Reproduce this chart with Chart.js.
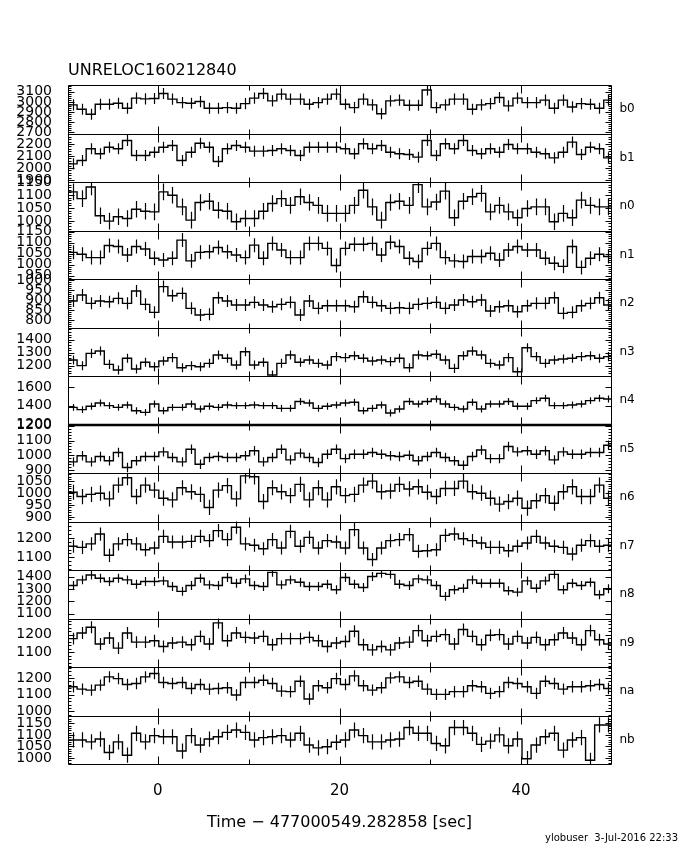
<!DOCTYPE html>
<html>
<head>
<meta charset="utf-8">
<script src="https://cdn.jsdelivr.net/npm/chart.js@4.4.1/dist/chart.umd.min.js"></script>
<style>
  body { margin: 0; background: #fff; }
  #wrap { width: 680px; height: 850px; }
</style>
</head>
<body>
<div id="wrap"><canvas id="lc" width="680" height="850"></canvas></div>
<script>
// bin centres, seconds since trigger
const times = [-9.4, -8.4, -7.4, -6.4, -5.4, -4.4, -3.4, -2.4, -1.4, -0.4,
  0.6, 1.6, 2.6, 3.6, 4.6, 5.6, 6.6, 7.6, 8.6, 9.6,
  10.6, 11.6, 12.6, 13.6, 14.6, 15.6, 16.6, 17.6, 18.6, 19.6,
  20.6, 21.6, 22.6, 23.6, 24.6, 25.6, 26.6, 27.6, 28.6, 29.6,
  30.6, 31.6, 32.6, 33.6, 34.6, 35.6, 36.6, 37.6, 38.6, 39.6,
  40.6, 41.6, 42.6, 43.6, 44.6, 45.6, 46.6, 47.6, 48.6, 49.6];

const panelNames = ['b0', 'b1', 'n0', 'n1', 'n2', 'n3', 'n4', 'n5', 'n6', 'n7', 'n8', 'n9', 'na', 'nb'];

const rateB0 = [2970,2927,2877,2977,2977,2987,2937,3037,3030,3033, 3083,3027,2993,2987,3003,2937,2937,2943,2937,2983,
  3037,3083,3010,3077,3027,3027,2977,2993,3027,3077, 2977,2943,3027,2970,2883,3010,3017,2967,2967,3117,
  2943,2970,3027,3027,2927,2970,2983,3043,2960,3037, 2993,2993,3017,2937,3017,2950,2983,2977,2937,3017];
const rateB1 = [2034,2062,2160,2118,2173,2160,2229,2104,2104,2131, 2173,2187,2062,2131,2206,2173,2054,2160,2187,2173,
  2140,2140,2145,2160,2145,2104,2173,2173,2173,2173, 2160,2118,2201,2160,2187,2131,2118,2112,2090,2229,
  2104,2201,2160,2229,2145,2118,2160,2131,2195,2160, 2160,2131,2118,2084,2131,2215,2112,2173,2160,2084];
const rateN0 = [1112,1086,1131,1020,999,1016,1009,1045,1037,1035, 1112,1099,1054,1003,1071,1076,1041,1037,997,1009,
  1009,1037,1067,1086,1060,1093,1071,1060,1029,1029, 1029,1060,1118,1054,1003,1071,1076,1060,1140,1054,
  1073,1115,1012,1076,1093,1106,1035,1060,1035,1012, 1048,1054,1054,997,1029,1012,1080,1060,1054,1054];
const rateN1 = [1056,1047,1032,1032,1087,1083,1044,1083,1071,1029, 1021,1029,1112,1017,1056,1059,1078,1059,1044,1032,
  1089,1029,1097,1067,1032,1032,1097,1097,1074,996, 1074,1093,1093,1097,1044,1102,1083,1029,1014,1074,
  1097,1032,1017,1014,1037,1037,1052,1021,1067,1083, 1067,1067,1029,1006,992,1083,987,1029,1047,1037];
const rateN2 = [895,925,883,895,891,908,883,945,878,838, 967,921,933,858,825,828,911,895,875,875,
  888,875,866,878,888,825,895,858,871,871, 871,866,916,888,871,858,861,858,878,883,
  888,858,875,900,891,900,845,866,871,841, 871,883,883,911,833,838,871,883,911,875];
const rateN3 = [1244,1200,1295,1313,1210,1166,1257,1174,1226,1192, 1236,1262,1184,1200,1192,1218,1282,1257,1205,1308,
  1205,1226,1128,1218,1282,1226,1244,1218,1205,1270, 1262,1277,1257,1236,1244,1231,1257,1184,1282,1277,
  1288,1244,1179,1277,1313,1282,1218,1205,1262,1153, 1339,1270,1218,1244,1251,1257,1270,1277,1257,1270];
const rateN4 = [1382,1357,1393,1429,1400,1382,1407,1346,1328,1418, 1346,1382,1382,1418,1364,1393,1382,1407,1400,1400,
  1407,1400,1400,1371,1371,1444,1429,1371,1393,1407, 1429,1436,1346,1371,1407,1321,1364,1444,1418,1444,
  1472,1418,1382,1364,1436,1364,1418,1418,1444,1393, 1393,1454,1480,1400,1400,1407,1418,1454,1480,1472];
const rateN5 = [955,996,955,991,962,1018,916,962,991,991, 1023,984,955,1041,939,984,991,984,984,996,
  1030,955,984,1041,968,1014,984,950,1007,1041, 977,1007,1007,1018,1007,996,991,1000,962,991,
  1018,984,962,932,991,1036,977,977,1059,1023, 1030,1007,1030,968,1023,1007,1007,1018,1018,1068];
const rateN6 = [1004,986,995,1000,976,1034,1065,986,1034,1013, 979,972,1023,1006,995,940,1013,1032,976,1073,
  1069,965,1023,1006,990,1037,972,1023,972,1027, 990,995,1034,1051,1006,1009,1037,1018,1027,1004,
  986,1020,1020,1051,1006,1000,979,954,965,979, 937,968,990,958,1006,1027,986,986,1034,979];
const rateN7 = [1157,1151,1169,1220,1110,1169,1191,1169,1139,1148, 1208,1179,1179,1182,1208,1186,1238,1191,1255,1169,
  1162,1144,1191,1148,1234,1157,1203,1148,1186,1179, 1148,1243,1148,1088,1148,1186,1191,1217,1131,1134,
  1139,1213,1220,1196,1186,1174,1151,1151,1134,1157, 1174,1208,1174,1157,1151,1117,1162,1186,1157,1162];
const rateN8 = [1329,1374,1414,1387,1361,1387,1374,1339,1361,1361, 1366,1321,1281,1329,1387,1334,1329,1393,1347,1382,
  1329,1321,1435,1334,1374,1355,1321,1321,1339,1294, 1393,1339,1313,1401,1427,1419,1339,1329,1382,1374,
  1329,1241,1294,1307,1374,1347,1347,1347,1286,1275, 1366,1307,1366,1419,1294,1347,1329,1355,1254,1302];
const rateN9 = [1177,1209,1242,1146,1181,1123,1209,1157,1157,1165, 1132,1152,1157,1142,1190,1146,1267,1165,1209,1184,
  1181,1190,1142,1177,1177,1177,1184,1165,1132,1152, 1161,1219,1142,1113,1132,1113,1152,1157,1223,1165,
  1190,1200,1146,1229,1190,1142,1196,1200,1146,1190, 1152,1184,1142,1171,1209,1181,1142,1223,1171,1146];
const rateNa = [1147,1133,1127,1157,1206,1196,1161,1167,1206,1226, 1173,1167,1173,1137,1161,1133,1137,1141,1098,1173,
  1173,1186,1167,1121,1118,1180,1074,1153,1141,1196, 1161,1212,1153,1127,1141,1200,1206,1173,1180,1133,
  1102,1102,1118,1118,1153,1147,1108,1118,1173,1167, 1147,1108,1180,1167,1133,1147,1147,1153,1161,1137];
const rateNb = [1078,1078,1070,1082,1024,1070,1012,1107,1070,1097, 1092,1092,1030,1097,1056,1082,1092,1111,1121,1111,
  1078,1088,1092,1097,1078,1107,1056,1044,1049,1068, 1078,1121,1097,1070,1070,1078,1082,1132,1107,1107,
  1063,1053,1132,1132,1107,1059,1073,1100,1053,1082, 997,1056,1092,1107,1034,1078,1088,990,1143,1143];

const rates = [rateB0, rateB1, rateN0, rateN1, rateN2, rateN3, rateN4, rateN5, rateN6, rateN7, rateN8, rateN9, rateNa, rateNb];
// one sigma error per panel (counts/s)
const errs = [55, 46, 32, 32, 30, 35, 37, 32, 32, 34, 36, 34, 34, 33];

// axis ranges and tick steps per panel
const yMin = [2687, 1883, 963, 934, 762, 1120, 1198, 879, 881, 1034, 1062, 1015, 976, 974];
const yMax = [3167, 2287, 1150, 1156, 1005, 1495, 1718, 1209, 1085, 1285, 1454, 1292, 1265, 1184];
const yMajor = [100, 100, 50, 50, 50, 100, 200, 100, 50, 100, 100, 100, 100, 50];
const yMinor = [20, 20, 10, 10, 10, 20, 0, 20, 10, 20, 0, 20, 20, 10];

const xMajor = [0, 20, 40];
const xMinor = [10, 30];

Chart.defaults.font.family = 'DejaVu Sans';
Chart.defaults.color = '#000';

function stepsIn(min, max, step) {
    let out = [];
    for (let v = Math.ceil(min / step) * step; v <= max + 1e-9; v += step) out.push(v);
    return out;
}

// stacked left axes are laid out last-defined on top, so add them from nb down to b0
let yScales = {};
for (let i = panelNames.length - 1; i >= 0; i--) {
    yScales['y' + i] = {
        type: 'linear',
        position: 'left',
        stack: 'panels',
        stackWeight: 1,
        min: yMin[i],
        max: yMax[i],
        grid: { display: false },
        border: { display: false },
        ticks: {
            autoSkip: false,
            padding: 8,
            font: { size: 14 },
            callback: v => String(v)
        },
        afterBuildTicks: s => { s.ticks = stepsIn(s.min, s.max, yMajor[i]).map(v => ({ value: v })); },
        afterFit: s => { s.width = 68; }
    };
}

// frame, ticks, panel names, title and footnote
const frames = {
    id: 'frames',
    afterDraw(chart) {
        const { ctx, chartArea, scales } = chart;
        const x = scales.x;
        const l = Math.round(chartArea.left) + 0.5;
        const r = Math.round(chartArea.right) + 0.5;
        ctx.save();
        ctx.strokeStyle = '#000';
        ctx.fillStyle = '#000';
        ctx.lineWidth = 1;
        panelNames.forEach((name, i) => {
            const s = scales['y' + i];
            const top = Math.round(s.top) + 0.5;
            const bot = Math.round(s.bottom) + 0.5;
            ctx.beginPath();
            ctx.rect(l, top, r - l, bot - top);
            xMajor.forEach(v => {
                const px = Math.round(x.getPixelForValue(v)) + 0.5;
                ctx.moveTo(px, top); ctx.lineTo(px, top + 8);
                ctx.moveTo(px, bot); ctx.lineTo(px, bot - 8);
            });
            xMinor.forEach(v => {
                const px = Math.round(x.getPixelForValue(v)) + 0.5;
                ctx.moveTo(px, top); ctx.lineTo(px, top + 5);
                ctx.moveTo(px, bot); ctx.lineTo(px, bot - 5);
            });
            const step = yMinor[i] || yMajor[i];
            stepsIn(s.min, s.max, step).forEach(v => {
                const q = v / yMajor[i];
                const len = Math.abs(q - Math.round(q)) < 1e-6 ? 6 : 3;
                const py = Math.round(s.getPixelForValue(v)) + 0.5;
                ctx.moveTo(l, py); ctx.lineTo(l + len, py);
                ctx.moveTo(r, py); ctx.lineTo(r - len, py);
            });
            ctx.stroke();
            ctx.font = '12px "DejaVu Sans"';
            ctx.textAlign = 'left';
            ctx.textBaseline = 'middle';
            ctx.fillText(name, r + 8, (s.top + s.bottom) / 2);
        });
        // heavier separator under n4
        const s4 = scales.y6;
        ctx.lineWidth = 2.5;
        ctx.beginPath();
        ctx.moveTo(l, Math.round(s4.bottom));
        ctx.lineTo(r, Math.round(s4.bottom));
        ctx.stroke();

        ctx.font = '16px "DejaVu Sans"';
        ctx.textAlign = 'left';
        ctx.textBaseline = 'alphabetic';
        ctx.fillText('UNRELOC160212840', chartArea.left, 75);
        ctx.font = '10px "DejaVu Sans"';
        ctx.textAlign = 'right';
        ctx.textBaseline = 'middle';
        ctx.fillText('ylobuser  3-Jul-2016 22:33', 678, 838);
        ctx.restore();
    }
};

// vertical error bars at the bin centres
const errorBars = {
    id: 'errorBars',
    afterDatasetsDraw(chart) {
        const { ctx, chartArea, scales } = chart;
        ctx.save();
        ctx.strokeStyle = '#000';
        ctx.lineWidth = 1.2;
        rates.forEach((vals, i) => {
            const s = scales['y' + i];
            ctx.save();
            ctx.beginPath();
            ctx.rect(chartArea.left, s.top, chartArea.right - chartArea.left, s.bottom - s.top);
            ctx.clip();
            ctx.beginPath();
            vals.forEach((v, k) => {
                const px = Math.round(scales.x.getPixelForValue(times[k])) + 0.5;
                ctx.moveTo(px, s.getPixelForValue(v - errs[i]));
                ctx.lineTo(px, s.getPixelForValue(v + errs[i]));
            });
            ctx.stroke();
            ctx.restore();
        });
        ctx.restore();
    }
};

const ctx = document.getElementById('lc').getContext('2d');
const chart = new Chart(ctx, {
    type: 'line',
    data: {
        datasets: rates.map((vals, i) => ({
            label: panelNames[i],
            yAxisID: 'y' + i,
            // left bin edges, closed by the right edge of the last bin
            data: times.map((t, k) => ({ x: t - 0.5, y: vals[k] }))
                .concat([{ x: times[times.length - 1] + 0.5, y: vals[vals.length - 1] }]),
            stepped: true,
            borderColor: '#000',
            borderWidth: 1.4,
            pointRadius: 0,
            fill: false
        }))
    },
    options: {
        responsive: false,
        animation: false,
        layout: { padding: { top: 85, left: 0, right: 69, bottom: 0 } },
        plugins: { legend: { display: false }, tooltip: { enabled: false } },
        scales: Object.assign({
            x: {
                type: 'linear',
                position: 'bottom',
                min: -9.9,
                max: 49.9,
                grid: { display: false },
                border: { display: false },
                ticks: { autoSkip: false, maxRotation: 0, padding: 10, font: { size: 15 } },
                afterBuildTicks: s => { s.ticks = xMajor.map(v => ({ value: v })); },
                afterFit: s => { s.height = 86; },
                title: {
                    display: true,
                    text: 'Time − 477000549.282858 [sec]',
                    font: { size: 16 },
                    padding: { top: 0, bottom: 18 }
                }
            }
        }, yScales)
    },
    plugins: [errorBars, frames]
});
</script>
</body>
</html>
